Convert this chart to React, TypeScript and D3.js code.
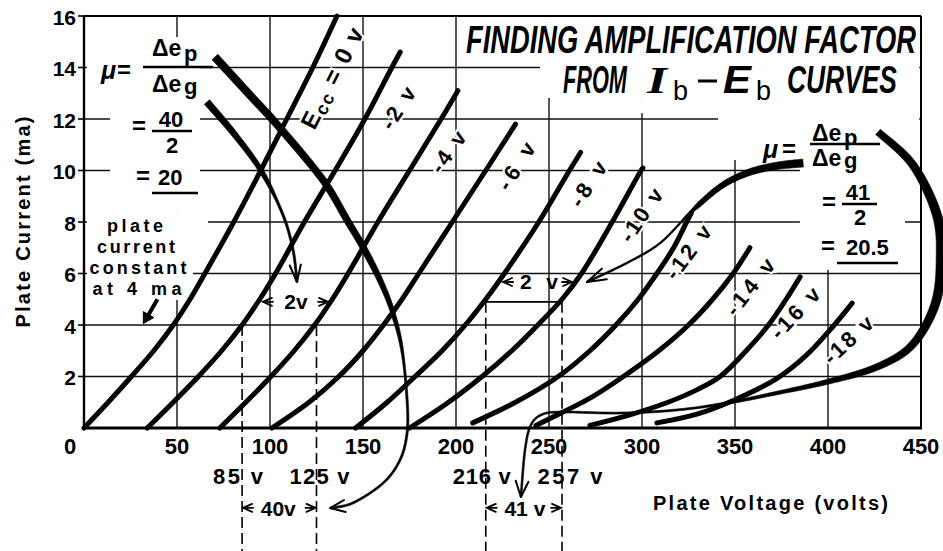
import React from "react";
import * as d3 from "d3";

type P = [number, number];

// ---------------- data (volts, milliamperes) ----------------
const voltTicks = [0, 50, 100, 150, 200, 250, 300, 350, 400, 450];
const voltLabels = ["0", "50", "100", "150", "200", "250", "300", "350", "400", "450"];
const currentTicks = [2, 4, 6, 8, 10, 12, 14, 16];
const currentLabels = ["2", "4", "6", "8", "10", "12", "14", "16"];

const gridBias = ["0", "-2", "-4", "-6", "-8", "-10", "-12", "-14", "-16", "-18"];

const curveE0: P[] = [[0, 0], [13, 1], [25.5, 2], [37.5, 3], [48, 4], [57, 5], [65, 6], [80.5, 8], [95, 10], [109, 12], [123, 14], [136, 16]];
const curveE2: P[] = [[34, 0], [48, 1], [61.5, 2], [74, 3], [85, 4], [94.5, 5], [103, 6], [118.5, 8], [135, 10], [151, 12], [165.5, 14], [170, 14.6]];
const curveE4: P[] = [[73, 0], [87, 1], [100.5, 2], [113, 3], [124, 4], [133.5, 5], [142, 6], [158, 8], [175, 10], [192, 12], [201, 13.1]];
const curveE6: P[] = [[101, 0], [121, 1], [137, 2], [150, 3], [161, 4], [171, 5], [180, 6], [198, 8], [216, 10], [232, 11.8]];
const curveE8: P[] = [[146, 0], [163, 1], [178, 2], [192.5, 3], [205, 4], [216, 5], [226, 6], [244.5, 8], [261, 10], [267, 10.7]];
const curveE10: P[] = [[175, 0], [196, 1], [214, 2], [230, 3], [244, 4], [257, 5], [267.5, 6], [284, 8], [299.5, 10], [300.5, 10.1]];
const curveE12: P[] = [[209, 0.2], [232, 1], [255, 2], [272, 3], [286, 4], [298, 5], [308, 6], [317, 7], [324, 8], [326.5, 8.35]];
const curveE14: P[] = [[243, 0.1], [257, 0.6], [273, 1.2], [290, 2], [309, 3], [325, 4], [338, 5], [349, 6], [358, 7]];
const curveE16: P[] = [[272, 0.1], [293, 0.5], [314, 1], [330, 1.5], [342, 2], [356, 3], [368, 4], [377.5, 5], [385, 5.87]];
const curveE18: P[] = [[308, 0.2], [330, 0.55], [350, 1.1], [372, 1.9], [388, 2.8], [401, 3.8], [413, 4.85]];
const curves = [curveE0, curveE2, curveE4, curveE6, curveE8, curveE10, curveE12, curveE14, curveE16, curveE18];

const markerVolts = [85, 125, 216, 257];
const markerLabels = ["85 v", "125 v", "216 v", "257 v"];
const leftConstCurrent = 4;
const rightConstCurrent = 4.9;
const leftDelta = "40v";
const rightDelta = "41 v";

// annotation arrows (volts, mA)
const arrowLeftBig: P[] = [[70.4, 14.41], [89.2, 12.93], [105.4, 11.65], [128.5, 9.63], [141.4, 8.08], [150.0, 7.03], [159.1, 5.75], [166.1, 4.47], [171.0, 3.03], [173.7, 1.09], [173.7, -0.19], [169.9, -1.24], [160.8, -2.14], [144.6, -2.91], [132.3, -3.11]];
const arrowLeftSmall: P[] = [[66.1, 12.66], [81.2, 11.38], [95.7, 9.94], [107.0, 8.27], [112.4, 6.91], [114.5, 5.67]];
const arrowRightSmall: P[] = [[386.6, 10.29], [371.5, 10.17], [356.5, 9.9], [341.9, 9.36], [325.8, 8.35], [309.7, 7.18], [291.9, 6.41], [270.4, 5.67]];
const arrowRightLoop: P[] = [[426.9, 11.5], [445.7, 10.21], [458.6, 8.27], [460.8, 6.52], [457.5, 4.78], [445.2, 3.22], [426.3, 2.37], [399.5, 1.79], [372.6, 1.36], [345.7, 0.97], [318.8, 0.7], [288.2, 0.58], [258.6, 0.62], [246.8, 0.54], [240.3, 0.12], [237.1, -0.85], [234.9, -2.68]];
const arrowConstant: P[] = [[39.5, 5.0], [33.5, 4.25]];

// ---------------- layout ----------------
const W = 943;
const H = 551;
const x = d3.scaleLinear().domain([0, 450]).range([84, 921]);
const y = d3.scaleLinear().domain([0, 16]).range([428, 16]);
const FONT = "'Liberation Sans', Arial, Helvetica, sans-serif";

// white areas behind annotation text (volts / mA)
const masks = [
  [201.1, 449, 14.29, 15.96],
  [245.2, 449, 12.82, 14.29],
  [277.4, 449, 12.23, 12.82],
  [340.9, 449, 10.41, 15.96],
  [384.9, 441.4, 6.14, 10.41],
  [441.4, 449, 8.85, 10.41],
  [1.6, 31.7, 13.51, 14.49],
  [14, 62.4, 8.47, 15.18],
  [1.6, 66.7, 6.91, 8.47],
  [1.6, 58.6, 4.97, 6.91],
];

const curveLabelLayout = [
  { v: 133.3, i: 13.59, a: -63, len: 110 },
  { v: 168.8, i: 12.43, a: -57, len: 46 },
  { v: 195.7, i: 10.72, a: -55, len: 46 },
  { v: 232.3, i: 10.17, a: -58, len: 52 },
  { v: 271, i: 9.48, a: -57, len: 50 },
  { v: 299.5, i: 8.27, a: -56, len: 60 },
  { v: 324.7, i: 6.83, a: -53, len: 62 },
  { v: 358, i: 5.48, a: -52, len: 66 },
  { v: 382.3, i: 4.47, a: -47, len: 62 },
  { v: 410.8, i: 3.42, a: -43, len: 60 },
];

const px = (d: P): P => [x(d[0]), y(d[1])];

function catmull(pts: P[], seg = 14): P[] {
  const out: P[] = [];
  const n = pts.length;
  for (let i = 0; i < n - 1; i++) {
    const p0 = pts[Math.max(0, i - 1)];
    const p1 = pts[i];
    const p2 = pts[i + 1];
    const p3 = pts[Math.min(n - 1, i + 2)];
    for (let k = 0; k < seg; k++) {
      const t = k / seg;
      const t2 = t * t;
      const t3 = t2 * t;
      const f = (a: number, b: number, c: number, d: number) =>
        0.5 * (2 * b + (-a + c) * t + (2 * a - 5 * b + 4 * c - d) * t2 + (-a + 3 * b - 3 * c + d) * t3);
      out.push([f(p0[0], p1[0], p2[0], p3[0]), f(p0[1], p1[1], p2[1], p3[1])]);
    }
  }
  out.push(pts[n - 1]);
  return out;
}

function taperPath(dataPts: P[], profile: [number, number][]): { d: string; s: P[] } {
  const s = catmull(dataPts.map(px));
  const cum = [0];
  for (let i = 1; i < s.length; i++) cum.push(cum[i - 1] + Math.hypot(s[i][0] - s[i - 1][0], s[i][1] - s[i - 1][1]));
  const total = cum[cum.length - 1];
  const wAt = (f: number) => {
    for (let k = 0; k < profile.length - 1; k++) {
      const [f0, w0] = profile[k];
      const [f1, w1] = profile[k + 1];
      if (f >= f0 && f <= f1) return w0 + ((w1 - w0) * (f - f0)) / (f1 - f0 || 1);
    }
    return profile[profile.length - 1][1];
  };
  const left: P[] = [];
  const right: P[] = [];
  for (let i = 0; i < s.length; i++) {
    const a = s[Math.max(0, i - 1)];
    const b = s[Math.min(s.length - 1, i + 1)];
    let tx = b[0] - a[0];
    let ty = b[1] - a[1];
    const L = Math.hypot(tx, ty) || 1;
    tx /= L;
    ty /= L;
    const w = wAt(cum[i] / total) / 2;
    left.push([s[i][0] - ty * w, s[i][1] + tx * w]);
    right.push([s[i][0] + ty * w, s[i][1] - tx * w]);
  }
  const fmt = (p: P) => `${p[0].toFixed(2)},${p[1].toFixed(2)}`;
  const d = "M" + left.map(fmt).join("L") + "L" + right.reverse().map(fmt).join("L") + "Z";
  return { d, s };
}

function headPath(tip: P, from: P, len: number, ang: number): string {
  const dx = tip[0] - from[0];
  const dy = tip[1] - from[1];
  const L = Math.hypot(dx, dy) || 1;
  const ux = dx / L;
  const uy = dy / L;
  const r = (ang * Math.PI) / 180;
  const b1: P = [tip[0] - len * (ux * Math.cos(r) - uy * Math.sin(r)), tip[1] - len * (uy * Math.cos(r) + ux * Math.sin(r))];
  const b2: P = [tip[0] - len * (ux * Math.cos(r) + uy * Math.sin(r)), tip[1] - len * (uy * Math.cos(r) - ux * Math.sin(r))];
  return `M${b1[0]},${b1[1]}L${tip[0]},${tip[1]}L${b2[0]},${b2[1]}`;
}

function TaperArrow({ pts, profile, head, ang }: { pts: P[]; profile: [number, number][]; head: number; ang: number }) {
  const { d, s } = taperPath(pts, profile);
  const tip = s[s.length - 1];
  const from = s[Math.max(0, s.length - 5)];
  return (
    <g>
      <path d={d} fill="#000" stroke="#000" strokeWidth={0.6} strokeLinejoin="round" />
      <path d={headPath(tip, from, head, ang)} fill="none" stroke="#000" strokeWidth={2} strokeLinecap="round" strokeLinejoin="round" />
    </g>
  );
}

function DimArrow({ x0, x1, yy }: { x0: number; x1: number; yy: number }) {
  return (
    <g stroke="#000" strokeWidth={1.8} fill="none" strokeLinecap="round">
      <path d={`M${x0 + 9},${yy - 4}L${x0},${yy}L${x0 + 9},${yy + 4}M${x0},${yy}L${x0 + 10},${yy}`} />
      <path d={`M${x1 - 9},${yy - 4}L${x1},${yy}L${x1 - 9},${yy + 4}M${x1},${yy}L${x1 - 10},${yy}`} />
    </g>
  );
}

// text squeezed horizontally to a target width
function FitText({ x0, y0, width, children, ...rest }: any) {
  const ref = React.useRef<SVGTextElement>(null);
  const [k, setK] = React.useState(1);
  React.useLayoutEffect(() => {
    if (ref.current) {
      const w = ref.current.getComputedTextLength();
      if (w > 0) setK(width / w);
    }
  }, [width]);
  return (
    <text ref={ref} x={0} y={0} transform={`translate(${x0},${y0}) scale(${k},1)`} {...rest}>
      {children}
    </text>
  );
}

export default function App() {
  const line = d3
    .line<P>()
    .x((d) => x(d[0]))
    .y((d) => y(d[1]))
    .curve(d3.curveCatmullRom.alpha(0.5));

  const bottom = -4.8;
  const constArrow = arrowConstant.map(px);

  return (
    <svg width={W} height={H} style={{ position: "absolute", left: 0, top: 0, display: "block" }} fontFamily={FONT}>
      <rect x={0} y={0} width={W} height={H} fill="#fff" />

      {/* grid */}
      <g stroke="#111" strokeWidth={1.4}>
        {voltTicks.slice(1, -1).map((v) => (
          <line key={"gv" + v} x1={x(v)} x2={x(v)} y1={y(0)} y2={y(16)} />
        ))}
        {currentTicks.slice(0, -1).map((c) => (
          <line key={"gh" + c} x1={x(0)} x2={x(450)} y1={y(c)} y2={y(c)} />
        ))}
      </g>

      {/* masks behind text */}
      <g fill="#fff">
        {masks.map((m, k) => (
          <rect key={"m" + k} x={x(m[0])} y={y(m[3])} width={x(m[1]) - x(m[0])} height={y(m[2]) - y(m[3])} />
        ))}
      </g>

      {/* y ticks */}
      <g stroke="#000" strokeWidth={1.6}>
        {currentTicks.map((c) => (
          <line key={"yt" + c} x1={x(0) - 6} x2={x(0)} y1={y(c)} y2={y(c)} />
        ))}
      </g>

      {/* dashed construction lines */}
      <g stroke="#000" strokeWidth={1.6} strokeDasharray="11 5" fill="none">
        <line x1={x(markerVolts[0])} x2={x(markerVolts[0])} y1={y(leftConstCurrent)} y2={y(bottom)} />
        <line x1={x(markerVolts[1])} x2={x(markerVolts[1])} y1={y(leftConstCurrent)} y2={y(bottom)} />
        <line x1={x(markerVolts[2])} x2={x(markerVolts[2])} y1={y(rightConstCurrent)} y2={y(bottom)} />
        <line x1={x(markerVolts[3])} x2={x(markerVolts[3])} y1={y(rightConstCurrent)} y2={y(bottom)} />
      </g>
      <line x1={x(markerVolts[2])} x2={x(markerVolts[3])} y1={y(rightConstCurrent)} y2={y(rightConstCurrent)} stroke="#000" strokeWidth={1.6} />

      {/* plot frame */}
      <g stroke="#000" fill="none">
        <line x1={x(0)} x2={x(450)} y1={y(16)} y2={y(16)} strokeWidth={2} />
        <line x1={x(0)} x2={x(0)} y1={y(16)} y2={y(0)} strokeWidth={2.4} />
        <line x1={x(450)} x2={x(450)} y1={y(16)} y2={y(0)} strokeWidth={2} />
        <line x1={x(0) - 1} x2={x(450) + 1} y1={y(0)} y2={y(0)} strokeWidth={3.2} />
      </g>

      {/* characteristic curves */}
      <g fill="none" stroke="#000" strokeWidth={5} strokeLinecap="round" strokeLinejoin="round">
        {curves.map((c, k) => (
          <path key={"c" + k} d={line(c) || ""} />
        ))}
      </g>

      {/* curve labels */}
      <g fontWeight="bold" fontSize={22} fill="#000" stroke="#fff" strokeWidth={4} style={{ paintOrder: "stroke" }}>
        {curveLabelLayout.map((l, k) => {
          const [cx, cy] = px([l.v, l.i]);
          if (k === 0) {
            return (
              <text key="lab0" transform={`translate(${cx},${cy}) rotate(${l.a})`} textAnchor="middle" dy="0.35em" textLength={l.len} lengthAdjust="spacing" fontSize={24}>
                E<tspan fontSize={18} dy="3">cc</tspan>
                <tspan dy="-3"> = {gridBias[k]} v</tspan>
              </text>
            );
          }
          return (
            <text key={"lab" + k} transform={`translate(${cx},${cy}) rotate(${l.a})`} textAnchor="middle" dy="0.35em" textLength={l.len} lengthAdjust="spacing">
              {gridBias[k]} v
            </text>
          );
        })}
      </g>

      {/* axis tick labels */}
      <g fontWeight="bold" fontSize={22} fill="#000">
        {voltTicks.map((v, k) => (
          <text key={"xl" + v} x={k === 0 ? x(v) - 14 : x(v)} y={454} textAnchor="middle">
            {voltLabels[k]}
          </text>
        ))}
      </g>
      <g fontWeight="bold" fontSize={21} fill="#000">
        {currentTicks.map((c, k) => (
          <text key={"yl" + c} x={76} y={y(c) + 8.5} textAnchor="end">
            {currentLabels[k]}
          </text>
        ))}
      </g>

      {/* axis titles */}
      <text transform="translate(30,222) rotate(-90)" textAnchor="middle" fontWeight="bold" fontSize={20} textLength={211} lengthAdjust="spacing">
        Plate Current (ma)
      </text>
      <text x={653} y={510} fontWeight="bold" fontSize={20} textLength={235} lengthAdjust="spacing">
        Plate Voltage (volts)
      </text>

      {/* voltage marker labels */}
      <g fontWeight="bold" fontSize={22} fill="#000">
        <text x={x(markerVolts[0]) - 4} y={484} textAnchor="middle" textLength={50} lengthAdjust="spacing">{markerLabels[0]}</text>
        <text x={x(markerVolts[1]) + 3} y={484} textAnchor="middle" textLength={60} lengthAdjust="spacing">{markerLabels[1]}</text>
        <text x={x(markerVolts[2]) - 4} y={484} textAnchor="middle" textLength={58} lengthAdjust="spacing">{markerLabels[2]}</text>
        <text x={x(markerVolts[3]) + 8} y={484} textAnchor="middle" textLength={65} lengthAdjust="spacing">{markerLabels[3]}</text>
      </g>
      <g fontWeight="bold" fontSize={21} fill="#000">
        <text x={(x(markerVolts[0]) + x(markerVolts[1])) / 2 - 1} y={516} textAnchor="middle">{leftDelta}</text>
        <text x={(x(markerVolts[2]) + x(markerVolts[3])) / 2 + 1} y={516} textAnchor="middle">{rightDelta}</text>
      </g>
      <DimArrow x0={x(markerVolts[0]) + 1} x1={x(markerVolts[1]) - 1} yy={y(-3.1)} />
      <DimArrow x0={x(markerVolts[2]) + 1} x1={x(markerVolts[3]) - 1} yy={y(-3.1)} />

      {/* 2 v spacings */}
      <g fontWeight="bold" fontSize={21} fill="#000">
        <text x={296} y={309} textAnchor="middle">2v</text>
        <text x={539} y={289} textAnchor="middle" textLength={38} lengthAdjust="spacing">2 v</text>
      </g>
      <DimArrow x0={x(96.2)} x1={x(131.2)} yy={y(4.9)} />
      <DimArrow x0={x(225.3)} x1={x(262.4)} yy={y(5.67)} />

      {/* title */}
      <g fontWeight="bold" fontStyle="italic" fill="#000">
        <FitText x0={466} y0={53} width={450} fontSize={38}>FINDING AMPLIFICATION FACTOR</FitText>
        <FitText x0={563} y0={93} width={64} fontSize={38}>FROM</FitText>
        <FitText x0={647} y0={93} width={20} fontSize={38} fontFamily="'Liberation Serif', serif">I</FitText>
        <FitText x0={723} y0={93} width={28} fontSize={38}>E</FitText>
        <FitText x0={787} y0={93} width={110} fontSize={38}>CURVES</FitText>
      </g>
      <g fontSize={27} fill="#000">
        <text x={673} y={100}>b</text>
        <text x={756} y={100}>b</text>
      </g>
      <line x1={698} x2={717} y1={81} y2={81} stroke="#000" strokeWidth={3} />

      {/* left formula */}
      <g fontWeight="bold" fill="#000">
        <text x={101} y={79} fontSize={25} fontStyle="italic">μ</text>
        <text x={117} y={78} fontSize={24}>=</text>
        <text x={152} y={56} fontSize={23}>Δe</text>
        <text x={184} y={61} fontSize={22}>p</text>
        <text x={152} y={92} fontSize={23}>Δe</text>
        <text x={184} y={94} fontSize={22}>g</text>
        <text x={132} y={134} fontSize={24}>=</text>
        <text x={171} y={127} fontSize={22} textAnchor="middle">40</text>
        <text x={172} y={153} fontSize={22} textAnchor="middle">2</text>
        <text x={136} y={184} fontSize={24}>=</text>
        <text x={158} y={185} fontSize={22}>20</text>
      </g>
      <g stroke="#000" strokeWidth={2.4}>
        <line x1={143} x2={213} y1={67} y2={67} />
        <line x1={152} x2={192} y1={131} y2={131} />
        <line x1={152} x2={198} y1={193} y2={193} />
      </g>

      {/* right formula */}
      <g fontWeight="bold" fill="#000">
        <text x={763} y={158} fontSize={25} fontStyle="italic">μ</text>
        <text x={782} y={157} fontSize={24}>=</text>
        <text x={812} y={141} fontSize={23}>Δe</text>
        <text x={844} y={145} fontSize={22}>p</text>
        <text x={812} y={166} fontSize={23}>Δe</text>
        <text x={844} y={168} fontSize={22}>g</text>
        <text x={822} y={210} fontSize={24}>=</text>
        <text x={858} y={200} fontSize={22} textAnchor="middle">41</text>
        <text x={860} y={225} fontSize={22} textAnchor="middle">2</text>
        <text x={821} y={254} fontSize={24}>=</text>
        <text x={846} y={255} fontSize={22}>20.5</text>
      </g>
      <g stroke="#000" strokeWidth={2.4}>
        <line x1={810} x2={880} y1={144} y2={144} />
        <line x1={842} x2={877} y1={204} y2={204} />
        <line x1={837} x2={898} y1={263} y2={263} />
      </g>

      {/* plate current constant text */}
      <g fontWeight="bold" fontSize={18} fill="#000" textAnchor="middle">
        <text x={135} y={232} textLength={56} lengthAdjust="spacing">plate</text>
        <text x={136} y={253} textLength={78} lengthAdjust="spacing">current</text>
        <text x={138} y={274} textLength={97} lengthAdjust="spacing">constant</text>
        <text x={137} y={295} textLength={89} lengthAdjust="spacing">at 4 ma</text>
      </g>
      <line x1={constArrow[0][0]} y1={constArrow[0][1]} x2={constArrow[1][0]} y2={constArrow[1][1]} stroke="#000" strokeWidth={4} />
      <path d={headPath([constArrow[1][0] - 3, constArrow[1][1] + 5], constArrow[0], 12, 30) + "Z"} fill="#000" stroke="#000" strokeWidth={1} />

      {/* annotation arrows */}
      <TaperArrow pts={arrowLeftBig} profile={[[0, 8], [0.45, 6.5], [0.57, 4.5], [0.66, 2.2], [1, 2]]} head={16} ang={22} />
      <TaperArrow pts={arrowLeftSmall} profile={[[0, 7], [0.43, 5], [0.6, 2.5], [1, 2]]} head={18} ang={18} />
      <TaperArrow pts={arrowRightSmall} profile={[[0, 8], [0.45, 5], [0.5, 3], [0.56, 1.8], [1, 1.8]]} head={20} ang={17} />
      <TaperArrow pts={arrowRightLoop} profile={[[0, 7], [0.2, 10], [0.4, 6.5], [0.54, 3.5], [0.66, 2], [1, 1.8]]} head={17} ang={22} />
    </svg>
  );
}
